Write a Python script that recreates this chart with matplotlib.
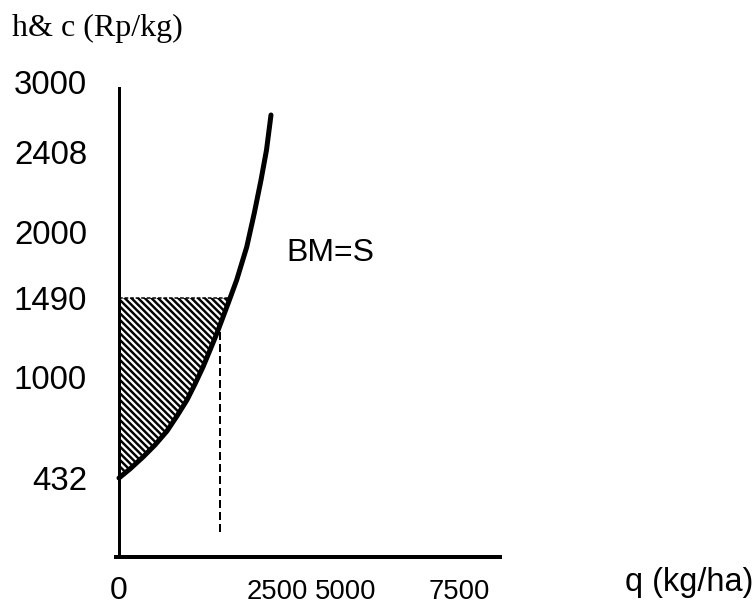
import numpy as np
import matplotlib
matplotlib.use("Agg")
import matplotlib.pyplot as plt

# ---------------- data ----------------
q_curve = [0, 174, 380, 570, 759, 918, 1076, 1203, 1329, 1440, 1551, 1729,
           1862, 2021, 2141, 2247, 2334, 2405]
h_curve = [432, 483, 550, 618, 696, 781, 871, 961, 1062, 1167, 1273, 1459,
           1629, 1884, 2097, 2265, 2425, 2721]
price_level = 1490          # top of the hatched area
q_opt = 1598                # dashed vertical drop
h_drop_bottom = 137

ytick_values = [432, 1000, 1490, 2000, 2408, 3000]
ytick_labels = ["432", "1000", "1490", "2000", "2408", "3000"]
xtick_values = [0, 2500, 5000, 7500]
xtick_labels = ["0", "2500", "5000", "7500"]

y_title = "h& c (Rp/kg)"
x_title = "q (kg/ha)"
curve_label = "BM=S"

# ---------------- layout (schematic axis spacing) ----------------
DPI = 80
W, H = 756, 605
def pt(v):
    return v * 72.0 / DPI

x_anchor_vals = [0, 2500, 5000, 7500]
x_anchor_pix = [119, 277, 346, 459]
y_anchor_vals = [0, 432, 1000, 1490, 2000, 2408, 3000]
y_anchor_pix = [557, 478, 377, 298, 232, 152, 82]

def piecewise(xp, fp):
    xp = np.asarray(xp, float)
    fp = np.asarray(fp, float)
    s0 = (fp[1] - fp[0]) / (xp[1] - xp[0])
    s1 = (fp[-1] - fp[-2]) / (xp[-1] - xp[-2])
    def f(x):
        x = np.asarray(x, float)
        y = np.interp(x, xp, fp)
        y = np.where(x < xp[0], fp[0] + (x - xp[0]) * s0, y)
        y = np.where(x > xp[-1], fp[-1] + (x - xp[-1]) * s1, y)
        return y
    return f

x_fwd = piecewise(x_anchor_vals, x_anchor_pix)
x_inv = piecewise(x_anchor_pix, x_anchor_vals)
y_fwd = piecewise(y_anchor_vals, [-p for p in y_anchor_pix])
y_inv = piecewise([-p for p in y_anchor_pix], y_anchor_vals)

plt.rcParams["font.family"] = ["Liberation Sans", "DejaVu Sans"]
plt.rcParams["hatch.linewidth"] = 2.2

fig = plt.figure(figsize=(W / DPI, H / DPI), dpi=DPI)
left_px, right_px, bottom_px, top_px = 116, 500, 557, 82
ax = fig.add_axes([left_px / W, (H - bottom_px) / H,
                   (right_px - left_px) / W, (bottom_px - top_px) / H])
ax.set_xscale("function", functions=(x_fwd, x_inv))
ax.set_yscale("function", functions=(y_fwd, y_inv))
ax.set_xlim(float(x_inv(left_px)), float(x_inv(right_px)))
ax.set_ylim(0, 3000)
ax.patch.set_alpha(0)

# hatched area between the axis, the price level and the curve
q_top = float(np.interp(price_level, h_curve, q_curve))
poly_q = [q for q, h in zip(q_curve, h_curve) if h < price_level] + [q_top, 0]
poly_h = [h for h in h_curve if h < price_level] + [price_level, price_level]
ax.fill(poly_q, poly_h, facecolor="white", edgecolor="black", hatch="\\\\\\\\",
        linewidth=0, zorder=1)
ax.plot([0, q_top], [price_level, price_level], color="black",
        lw=pt(1.5), linestyle=(0, (2.5, 1.2)), zorder=2)

# dashed drop line
ax.plot([q_opt, q_opt], [h_drop_bottom, float(np.interp(q_opt, q_curve, h_curve))],
        color="black", lw=pt(2), linestyle=(0, (4, 2)), zorder=2)

# supply curve
ax.plot(q_curve, h_curve, color="black", lw=pt(5), solid_capstyle="round",
        solid_joinstyle="round", zorder=3)

# axes styling
for s in ("top", "right"):
    ax.spines[s].set_visible(False)
ax.spines["left"].set_position(("data", 0))
ax.spines["left"].set_bounds(0, 2949)
ax.spines["left"].set_linewidth(pt(3))
ax.spines["bottom"].set_linewidth(pt(4))

ax.set_yticks(ytick_values, ytick_labels)
ax.tick_params(axis="y", length=0, pad=pt(32), labelsize=pt(33))
ax.set_xticks(xtick_values, xtick_labels)
ax.tick_params(axis="x", length=0, pad=pt(42))
for lbl, txt in zip(ax.get_xticklabels(), xtick_labels):
    lbl.set_fontsize(pt(32) if txt == "0" else pt(27.5))
    lbl.set_va("baseline")
ax.minorticks_off()

fig.text(12 / W, 1 - 28 / H, y_title, family=["Liberation Serif", "DejaVu Serif"],
         fontsize=pt(32), ha="left", va="center")
fig.text(625 / W, 1 - 582 / H, x_title, fontsize=pt(32.5), ha="left", va="center")
ax.text((330 - left_px) / (right_px - left_px), (bottom_px - 253) / (bottom_px - top_px),
        curve_label, fontsize=pt(32), ha="center", va="center", transform=ax.transAxes)

fig.savefig("out.png", dpi=DPI)
